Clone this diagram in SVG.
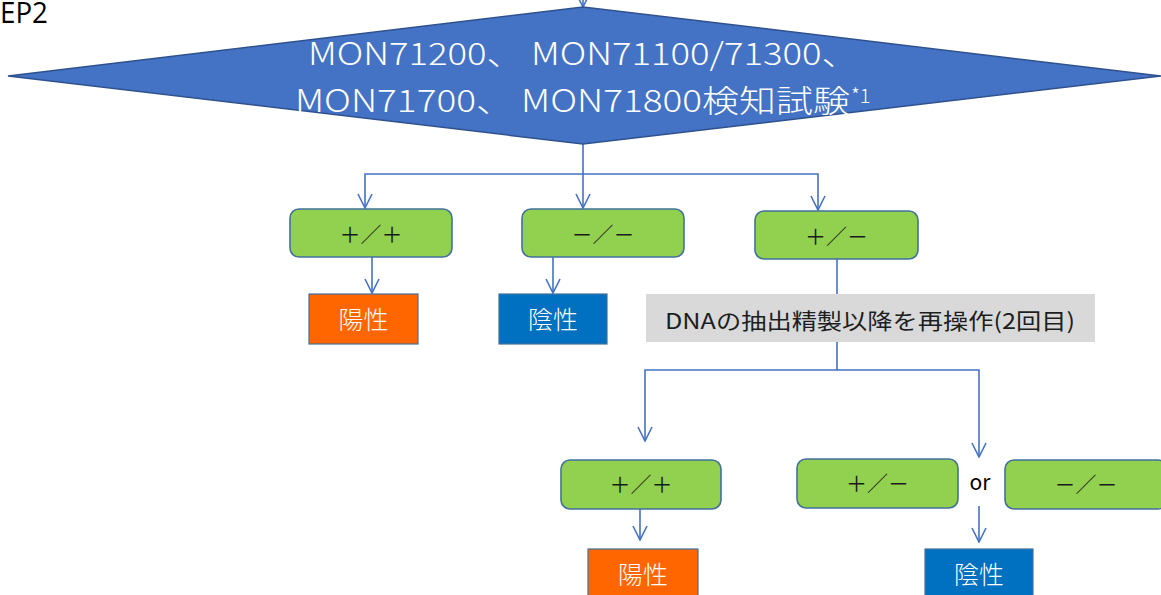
<svg xmlns="http://www.w3.org/2000/svg" width="1161" height="595" viewBox="0 0 1161 595">
<defs>
<style>
.jp{font-family:"Noto Sans CJK JP","Noto Sans",sans-serif}
.res{fill:#92D050;stroke:#41719C;stroke-width:1.6}
.pos{fill:#FF6600;stroke:#41719C;stroke-width:1.2}
.neg{fill:#0070C0;stroke:#41719C;stroke-width:1.2}
.rt{font-size:21px;fill:#1a1a1a;text-anchor:middle}
.wt{font-size:25px;fill:#ffffff;text-anchor:middle;font-weight:300}
.dt{fill:#ffffff;font-weight:300}
.con path{fill:none;stroke:#4472C4;stroke-width:1.6}
</style>
<marker id="ah" viewBox="0 0 16 16" refX="15" refY="8" markerWidth="16" markerHeight="16" markerUnits="userSpaceOnUse" orient="auto">
<path d="M1,1 L15,8 L1,15" fill="none" stroke="#4472C4" stroke-width="1.6"/>
</marker>
</defs>
<rect width="1161" height="595" fill="#ffffff"/>
<text x="0" y="23" font-family="Open Sans,Liberation Sans,sans-serif" font-size="29" fill="#000" textLength="48" lengthAdjust="spacingAndGlyphs">EP2</text>

<g class="con">
<path d="M583,-12 V7" marker-end="url(#ah)"/>
<path d="M583,144 V174 H365 V208" marker-end="url(#ah)"/>
<path d="M583,174 V208" marker-end="url(#ah)"/>
<path d="M583,174 H818 V210" marker-end="url(#ah)"/>
<path d="M372,257 V293" marker-end="url(#ah)"/>
<path d="M553,257 V293" marker-end="url(#ah)"/>
<path d="M837,259 V294"/>
<path d="M837,342 V370 H645 V441" marker-end="url(#ah)"/>
<path d="M837,370 H979 V457" marker-end="url(#ah)"/>
<path d="M640,509 V540" marker-end="url(#ah)"/>
<path d="M979,506 V542" marker-end="url(#ah)"/>
</g>

<g id="decision">
<polygon points="8,76 583,7 1161,76 583,144" fill="#4472C4" stroke="#2F528F" stroke-width="1.5"/>
<text class="jp dt" x="308" y="65" font-size="31" textLength="550" lengthAdjust="spacingAndGlyphs">MON71200、 MON71100/71300、</text>
<text class="jp dt" x="295" y="112" font-size="31" textLength="555" lengthAdjust="spacingAndGlyphs">MON71700、 MON71800検知試験</text>
<text class="jp dt" x="851" y="103" font-size="20">*1</text>
</g>

<g id="pp1">
<rect class="res" x="290" y="209" width="162" height="48" rx="9"/>
<text class="jp rt" x="371" y="242">＋／＋</text>
</g>
<g id="mm1">
<rect class="res" x="522" y="209" width="162" height="48" rx="9"/>
<text class="jp rt" x="603" y="242">－／－</text>
</g>
<g id="pm1">
<rect class="res" x="755" y="211" width="163" height="48" rx="9"/>
<text class="jp rt" x="836.5" y="244">＋／－</text>
</g>
<g id="positive1">
<rect class="pos" x="309" y="294" width="109" height="50"/>
<text class="jp wt" x="363.5" y="329">陽性</text>
</g>
<g id="negative1">
<rect class="neg" x="499" y="294" width="108" height="50"/>
<text class="jp wt" x="553" y="329">陰性</text>
</g>
<g id="retry">
<rect x="646" y="294" width="449" height="48" fill="#D9D9D9"/>
<text class="jp" x="665" y="329" font-size="22" fill="#1e1e1e" textLength="410" lengthAdjust="spacingAndGlyphs">DNAの抽出精製以降を再操作(2回目)</text>
</g>
<g id="pp2">
<rect class="res" x="561" y="460" width="160" height="49" rx="9"/>
<text class="jp rt" x="641" y="492">＋／＋</text>
</g>
<g id="pm2">
<rect class="res" x="797" y="459" width="161" height="49" rx="9"/>
<text class="jp rt" x="877.5" y="491">＋／－</text>
</g>
<text class="jp" x="980" y="490" font-size="21" fill="#000" text-anchor="middle">or</text>
<g id="mm2">
<rect class="res" x="1005" y="460" width="162" height="49" rx="9"/>
<text class="jp rt" x="1086" y="492">－／－</text>
</g>
<g id="positive2">
<rect class="pos" x="588" y="549" width="110" height="52"/>
<text class="jp wt" x="643" y="584">陽性</text>
</g>
<g id="negative2">
<rect class="neg" x="925" y="549" width="108" height="52"/>
<text class="jp wt" x="979" y="584">陰性</text>
</g>
</svg>
